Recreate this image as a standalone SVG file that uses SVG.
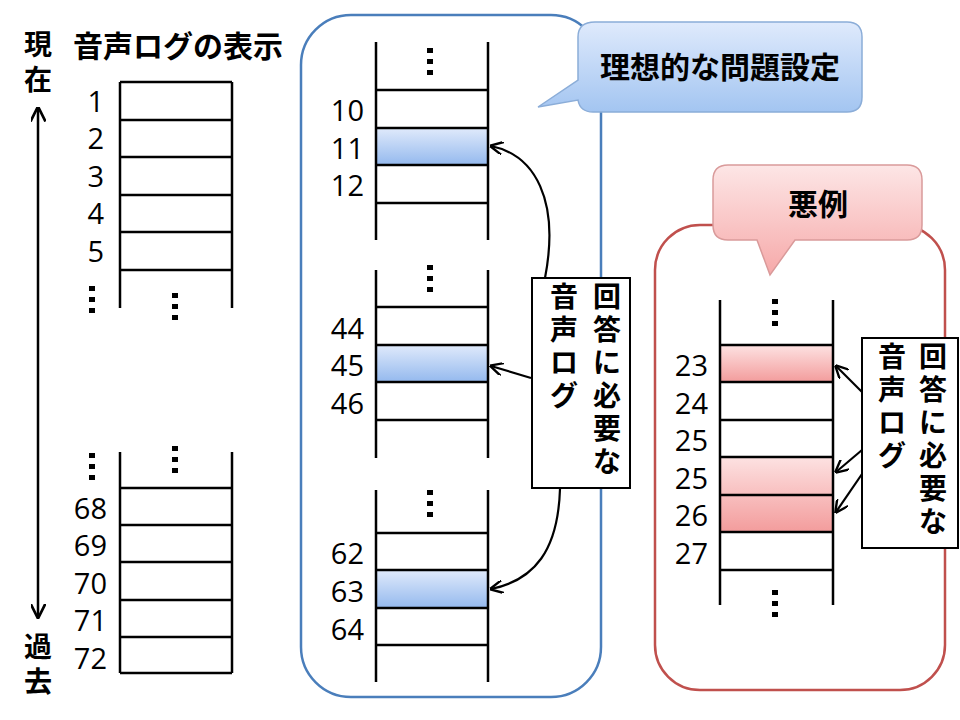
<svg xmlns="http://www.w3.org/2000/svg" width="960" height="720" viewBox="0 0 960 720">
<defs>
<linearGradient id="hb" x1="0" y1="0" x2="0" y2="1"><stop offset="0" stop-color="#e0eafb"/><stop offset="1" stop-color="#94b9ee"/></linearGradient>
<linearGradient id="hr" x1="0" y1="0" x2="0" y2="1"><stop offset="0" stop-color="#fde2e2"/><stop offset="1" stop-color="#f39c9c"/></linearGradient>
<linearGradient id="cb" x1="0" y1="0" x2="0" y2="1"><stop offset="0" stop-color="#dfeafc"/><stop offset="1" stop-color="#a3c5f1"/></linearGradient>
<linearGradient id="cr" x1="0" y1="0" x2="0" y2="1"><stop offset="0" stop-color="#fde6e6"/><stop offset="1" stop-color="#f6a9a9"/></linearGradient>
<marker id="ah" viewBox="0 0 10 10" refX="9" refY="5" markerWidth="6" markerHeight="6" orient="auto-start-reverse"><path d="M0,0 L10,5 L0,10" fill="none" stroke="#000" stroke-width="1.8"/></marker>
</defs>
<style>
.l{stroke:#000;stroke-width:2.5;fill:none}
.n{font-family:"Open Sans","Liberation Sans",sans-serif;font-size:29px;fill:#000;text-anchor:end}
.j{font-family:"Noto Sans CJK JP",sans-serif;font-weight:bold;font-size:30px;fill:#000;text-anchor:middle}
.v{font-size:28px}
.d{fill:#000}
.c{stroke:#000;stroke-width:2.2;fill:none;marker-end:url(#ah)}
</style>
<rect width="960" height="720" fill="#fff"/>

<g id="timeline">
<line x1="38" y1="108" x2="38" y2="617" stroke="#000" stroke-width="2.5" marker-start="url(#ah)" marker-end="url(#ah)"/>
<text class="j v" x="38" y="55">現</text><text class="j v" x="38" y="90">在</text>
<text class="j v" x="38" y="657">過</text><text class="j v" x="38" y="692">去</text>
<text class="j" x="178" y="57">音声ログの表示</text>
</g>

<g id="left-ladder">
<path class="l" d="M120,82V308M232,82V308M120,82H232M120,120H232M120,157H232M120,195H232M120,232H232M120,270H232"/>
<text class="n" x="104" y="112">1</text><text class="n" x="104" y="149">2</text><text class="n" x="104" y="187">3</text><text class="n" x="104" y="224">4</text><text class="n" x="104" y="262">5</text>
<g class="d"><rect x="89" y="286" width="6" height="5"/><rect x="89" y="297" width="6" height="5"/><rect x="89" y="308" width="6" height="5"/>
<rect x="172" y="293" width="6" height="5"/><rect x="172" y="304" width="6" height="5"/><rect x="172" y="315" width="6" height="5"/></g>
<path class="l" d="M120,452V673M232,452V673M120,488H232M120,525H232M120,562H232M120,600H232M120,637H232M120,673H232"/>
<g class="d"><rect x="89" y="453" width="6" height="5"/><rect x="89" y="464" width="6" height="5"/><rect x="89" y="475" width="6" height="5"/>
<rect x="172" y="446" width="6" height="5"/><rect x="172" y="457" width="6" height="5"/><rect x="172" y="468" width="6" height="5"/></g>
<text class="n" x="107" y="519">68</text><text class="n" x="107" y="556">69</text><text class="n" x="107" y="594">70</text><text class="n" x="107" y="631">71</text><text class="n" x="107" y="669">72</text>
</g>

<g id="ideal-box">
<rect x="301" y="15" width="300" height="682" rx="50" fill="none" stroke="#4a7ebb" stroke-width="2.5"/>
<rect x="376" y="128" width="112" height="37" fill="url(#hb)"/>
<path class="l" d="M376,42V240M488,42V240M376,90H488M376,128H488M376,165H488M376,203H488"/>
<g class="d"><rect x="427" y="48" width="6" height="5"/><rect x="427" y="59" width="6" height="5"/><rect x="427" y="70" width="6" height="5"/></g>
<text class="n" x="364" y="121">10</text><text class="n" x="364" y="159">11</text><text class="n" x="364" y="196">12</text>
<rect x="376" y="345" width="112" height="37" fill="url(#hb)"/>
<path class="l" d="M376,270V458M488,270V458M376,307H488M376,345H488M376,382H488M376,420H488"/>
<g class="d"><rect x="427" y="265" width="6" height="5"/><rect x="427" y="276" width="6" height="5"/><rect x="427" y="287" width="6" height="5"/></g>
<text class="n" x="364" y="339">44</text><text class="n" x="364" y="376">45</text><text class="n" x="364" y="414">46</text>
<rect x="376" y="570" width="112" height="38" fill="url(#hb)"/>
<path class="l" d="M376,490V682M488,490V682M376,533H488M376,570H488M376,608H488M376,645H488"/>
<g class="d"><rect x="427" y="490" width="6" height="5"/><rect x="427" y="501" width="6" height="5"/><rect x="427" y="512" width="6" height="5"/></g>
<text class="n" x="364" y="564">62</text><text class="n" x="364" y="602">63</text><text class="n" x="364" y="640">64</text>
</g>

<g id="ideal-label">
<rect x="532" y="278" width="98" height="210" fill="#fff" stroke="#000" stroke-width="2"/>
<g class="j v"><text x="607" y="307">回</text><text x="607" y="340">答</text><text x="607" y="373">に</text><text x="607" y="406">必</text><text x="607" y="439">要</text><text x="607" y="472">な</text>
<text x="564" y="307">音</text><text x="564" y="340">声</text><text x="564" y="373">ロ</text><text x="564" y="406">グ</text></g>
</g>

<g id="ideal-callout">
<path d="M595,22H847Q862,22 862,37V97Q862,112 847,112H593Q580,112 578,100L538,107L578,80V37Q578,22 595,22Z" fill="url(#cb)" stroke="#8badd8" stroke-width="1.5"/>
<text class="j" x="720" y="78">理想的な問題設定</text>
</g>

<g id="bad-box">
<rect x="655" y="225" width="290" height="465" rx="45" fill="none" stroke="#c0504d" stroke-width="2.5"/>
<rect x="720" y="345" width="113" height="37" fill="url(#hr)"/>
<rect x="720" y="457" width="113" height="75" fill="url(#hr)"/>
<path class="l" d="M720,300V605M833,300V605M720,345H833M720,382H833M720,420H833M720,457H833M720,495H833M720,532H833M720,570H833"/>
<g class="d"><rect x="772" y="299" width="6" height="5"/><rect x="772" y="310" width="6" height="5"/><rect x="772" y="321" width="6" height="5"/>
<rect x="772" y="590" width="6" height="5"/><rect x="772" y="601" width="6" height="5"/><rect x="772" y="612" width="6" height="5"/></g>
<text class="n" x="708" y="376">23</text><text class="n" x="708" y="414">24</text><text class="n" x="708" y="451">25</text><text class="n" x="708" y="489">25</text><text class="n" x="708" y="526">26</text><text class="n" x="708" y="564">27</text>
</g>

<g id="bad-label">
<rect x="862" y="338" width="96" height="210" fill="#fff" stroke="#000" stroke-width="2"/>
<g class="j v"><text x="933" y="367">回</text><text x="933" y="400">答</text><text x="933" y="433">に</text><text x="933" y="466">必</text><text x="933" y="499">要</text><text x="933" y="532">な</text>
<text x="892" y="367">音</text><text x="892" y="400">声</text><text x="892" y="433">ロ</text><text x="892" y="466">グ</text></g>
</g>

<g id="bad-callout">
<path d="M728,165H907Q922,165 922,180V225Q922,240 907,240H795L770,275L757,240H728Q713,240 713,225V180Q713,165 728,165Z" fill="url(#cr)" stroke="#d99a9a" stroke-width="1.5"/>
<text class="j" x="818" y="215">悪例</text>
</g>

<g id="connectors">
<path class="c" d="M545,278 C560,200 535,155 491,146"/>
<path class="c" d="M531,378 L491,366"/>
<path class="c" d="M560,489 C558,550 535,580 491,589"/>
<path class="c" d="M862,392 L836,366"/>
<path class="c" d="M862,450 L836,472"/>
<path class="c" d="M862,474 L836,512"/>
</g>
</svg>
